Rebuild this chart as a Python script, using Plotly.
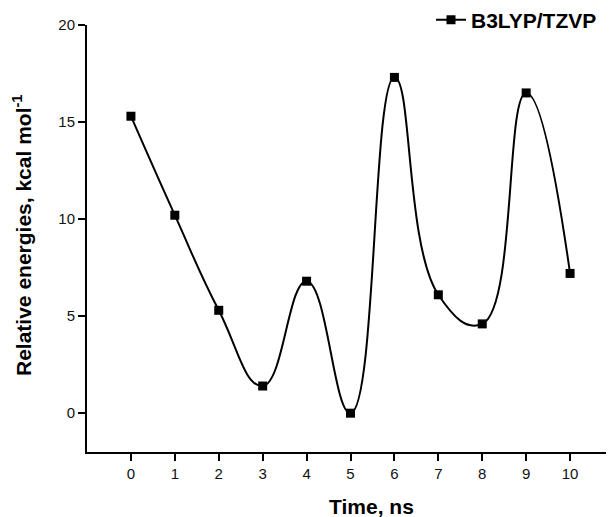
import plotly.graph_objects as go

time_ns = [0, 1, 2, 3, 4, 5, 6, 7, 8, 9, 10]
rel_energy = [15.3, 10.2, 5.3, 1.4, 6.8, 0.0, 17.3, 6.1, 4.6, 16.5, 7.2]
series_name = "B3LYP/TZVP"
x_ticks = [0, 1, 2, 3, 4, 5, 6, 7, 8, 9, 10]
y_ticks = [0, 5, 10, 15, 20]

FONT = "Liberation Sans, Arial, sans-serif"
# page body adds an 8px offset; size figure so the plot lands where the reference has it
OFF = 8
W, H = 614 - OFF, 517 - OFF
ML, MR, MT, MB = 87 - OFF, 0, 25 - OFF, 65
PW, PH = W - ML - MR, H - MT - MB
PX0, PY0, PY1 = 87, 25, 452  # plot area in window pixels

fig = go.Figure()
fig.add_trace(go.Scatter(
    x=time_ns, y=rel_energy, name=series_name,
    mode="lines+markers",
    line=dict(color="black", width=2, shape="spline", smoothing=1.3),
    marker=dict(symbol="square", size=9, color="black"),
))

axis_common = dict(
    showline=True, linecolor="black", linewidth=2,
    ticks="outside", ticklen=7, tickwidth=2, tickcolor="black",
    showgrid=False, zeroline=False, automargin=False,
    tickfont=dict(family=FONT, size=15, color="#111"),
)

fig.update_xaxes(range=[-1, 11], tickvals=x_ticks, **axis_common)
fig.update_yaxes(range=[-2, 20], tickvals=y_ticks, **axis_common)

fig.update_layout(
    width=W, height=H,
    margin=dict(l=ML, r=MR, t=MT, b=MB, autoexpand=False),
    plot_bgcolor="white", paper_bgcolor="white",
    showlegend=True,
    legend=dict(x=(431 - PX0) / PW, y=1 + (PY0 - 20) / PH,
                xanchor="left", yanchor="middle",
                font=dict(family=FONT, size=21, color="black", weight="bold"),
                bgcolor="rgba(0,0,0,0)"),
    annotations=[
        dict(text="<b>Time, ns</b>", xref="paper", yref="paper",
             x=(371 - PX0) / PW, y=-(507 - PY1) / PH, xanchor="center", yanchor="middle",
             showarrow=False, font=dict(family=FONT, size=21, color="black")),
        dict(text="<b>Relative energies, kcal mol<sup>-1</sup></b>", xref="paper", yref="paper",
             x=(22 - PX0) / PW, y=(PY1 - 235) / PH, xanchor="center", yanchor="middle",
             textangle=-90, showarrow=False, font=dict(family=FONT, size=21, color="black")),
    ],
)

fig.write_html("out.html")
